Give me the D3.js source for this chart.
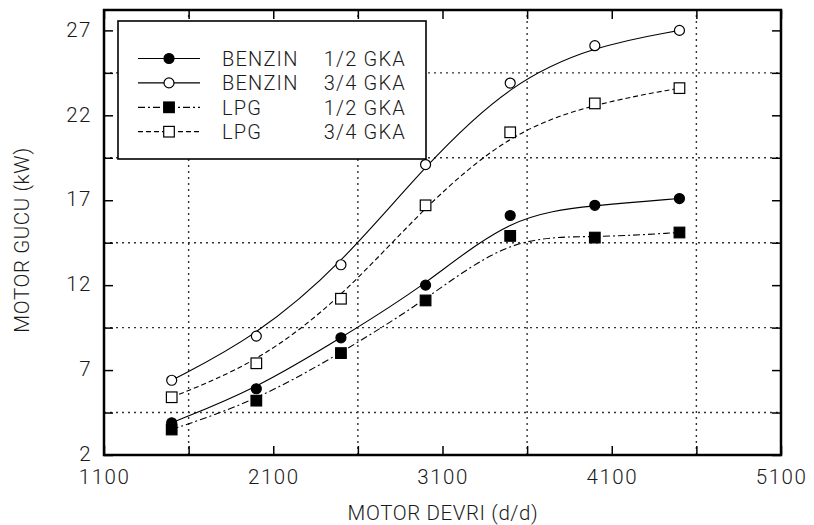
<!DOCTYPE html>
<html>
<head>
<meta charset="utf-8">
<script src="https://cdn.jsdelivr.net/npm/d3@7"></script>
<style>
  html, body { margin: 0; padding: 0; background: #fff; }
  svg { display: block; }
  text { font-family: Roboto, "Liberation Sans", Arial, sans-serif; font-weight: 300; fill: #1a1a1a; }
</style>
</head>
<body>
<svg id="chart" width="814" height="525"></svg>
<script>
// ---- data ----
const rpm = [1500, 2000, 2500, 3000, 3500, 4000, 4500];
const benzin12 = [3.9, 5.9, 8.9, 12.0, 16.1, 16.7, 17.1];
const benzin34 = [6.4, 9.0, 13.2, 19.1, 23.9, 26.1, 27.0];
const lpg12 = [3.5, 5.2, 8.0, 11.1, 14.9, 14.8, 15.1];
const lpg34 = [5.4, 7.4, 11.2, 16.7, 21.0, 22.7, 23.6];
const seriesNames = ["BENZIN", "BENZIN", "LPG", "LPG"];
const seriesLoads = ["1/2 GKA", "3/4 GKA", "1/2 GKA", "3/4 GKA"];
const xTicks = [1100, 2100, 3100, 4100, 5100];
const xMinor = [1600, 2600, 3600, 4600];
const yTicks = [2, 7, 12, 17, 22, 27];
const yMinor = [4.5, 9.5, 14.5, 19.5, 24.5];
const xTitle = "MOTOR DEVRI (d/d)";
const yTitle = "MOTOR GUCU (kW)";

const series = [
  { name: seriesNames[0], load: seriesLoads[0], values: benzin12, marker: "circle", fill: "#000", dash: null },
  { name: seriesNames[1], load: seriesLoads[1], values: benzin34, marker: "circle", fill: "#fff", dash: null },
  { name: seriesNames[2], load: seriesLoads[2], values: lpg12, marker: "square", fill: "#000", dash: "7,3,2,3" },
  { name: seriesNames[3], load: seriesLoads[3], values: lpg34, marker: "square", fill: "#fff", dash: "5,3" }
];

const svg = d3.select("#chart");
const x = d3.scaleLinear().domain([1100, 5100]).range([104, 781]);
const y = d3.scaleLinear().domain([2, 28.2]).range([455, 10]);
const FS = 20.5;

// gridlines (dotted, at minor ticks)
const grid = svg.append("g").attr("stroke", "#333").attr("stroke-width", 1.4).attr("stroke-dasharray", "2,4");
grid.selectAll(".gx").data(xMinor).join("line")
  .attr("x1", d => x(d)).attr("x2", d => x(d)).attr("y1", y.range()[0]).attr("y2", y.range()[1]);
grid.selectAll(".gy").data(yMinor).join("line")
  .attr("y1", d => y(d)).attr("y2", d => y(d)).attr("x1", x.range()[0]).attr("x2", x.range()[1]);

// axes
function styleAxis(g) {
  g.select(".domain").remove();
  g.selectAll(".tick line").attr("stroke", "#000").attr("stroke-width", 1.5);
  g.selectAll(".tick text").style("font-size", FS + "px").style("letter-spacing", "1.5px").attr("fill", "#1a1a1a");
}
const allX = xTicks.concat(xMinor), allY = yTicks.concat(yMinor);
svg.append("g").attr("transform", `translate(0,${y.range()[0]})`)
  .call(d3.axisBottom(x).tickValues(xTicks).tickSizeInner(-9).tickSizeOuter(0).tickPadding(14).tickFormat(d3.format("d")))
  .call(styleAxis);
svg.append("g").attr("transform", `translate(0,${y.range()[0]})`)
  .call(d3.axisBottom(x).tickValues(xMinor).tickSizeInner(-9).tickSizeOuter(0).tickFormat(""))
  .call(styleAxis);
svg.append("g").attr("transform", `translate(0,${y.range()[1]})`)
  .call(d3.axisTop(x).tickValues(allX).tickSizeInner(-9).tickSizeOuter(0).tickFormat(""))
  .call(styleAxis);
svg.append("g").attr("transform", `translate(${x.range()[0]},0)`)
  .call(d3.axisLeft(y).tickValues(yTicks).tickSizeInner(-9).tickSizeOuter(0).tickPadding(12).tickFormat(d3.format("d")))
  .call(styleAxis)
  .call(g => g.selectAll(".tick text").attr("dy", "0.28em"));
svg.append("g").attr("transform", `translate(${x.range()[0]},0)`)
  .call(d3.axisLeft(y).tickValues(yMinor).tickSizeInner(-9).tickSizeOuter(0).tickFormat(""))
  .call(styleAxis);
svg.append("g").attr("transform", `translate(${x.range()[1]},0)`)
  .call(d3.axisRight(y).tickValues(allY).tickSizeInner(-9).tickSizeOuter(0).tickFormat(""))
  .call(styleAxis);
svg.selectAll("g[font-family]").attr("font-family", null).attr("font-size", null);

// frame
svg.append("rect")
  .attr("x", x.range()[0]).attr("y", y.range()[1])
  .attr("width", x.range()[1] - x.range()[0]).attr("height", y.range()[0] - y.range()[1])
  .attr("fill", "none").attr("stroke", "#000").attr("stroke-width", 2.5);

// smoothed curves through the measured points
const line = d3.line().x((d, i) => x(rpm[i])).y(d => y(d)).curve(d3.curveBasis);

function drawMarker(g, s, cx, cy) {
  if (s.marker === "circle") {
    g.append("circle").attr("cx", cx).attr("cy", cy).attr("r", 5)
      .attr("fill", s.fill).attr("stroke", "#000").attr("stroke-width", 1.2);
  } else {
    g.append("rect").attr("x", cx - 5.3).attr("y", cy - 5.3).attr("width", 10.6).attr("height", 10.6)
      .attr("fill", s.fill).attr("stroke", "#000").attr("stroke-width", 1.2);
  }
}

const plot = svg.append("g");
series.forEach(s => {
  plot.append("path").datum(s.values)
    .attr("d", line).attr("fill", "none").attr("stroke", "#000").attr("stroke-width", 1.1)
    .attr("stroke-dasharray", s.dash);
});
series.forEach(s => {
  const g = plot.append("g");
  rpm.forEach((r, i) => drawMarker(g, s, x(r), y(s.values[i])));
});

// legend
const lg = svg.append("g");
lg.append("rect").attr("x", 118).attr("y", 21).attr("width", 308).attr("height", 138)
  .attr("fill", "#fff").attr("stroke", "#000").attr("stroke-width", 1.6);
series.forEach((s, i) => {
  const ly = 58.5 + i * 24.4;
  lg.append("line").attr("x1", 138).attr("x2", 200).attr("y1", ly).attr("y2", ly)
    .attr("stroke", "#000").attr("stroke-width", 1.2).attr("stroke-dasharray", s.dash);
  drawMarker(lg, s, 169, ly);
  lg.append("text").attr("x", 222).attr("y", ly).attr("dy", "0.36em")
    .style("font-size", "20px").style("letter-spacing", "1.2px").text(s.name);
  lg.append("text").attr("x", 406).attr("y", ly).attr("dy", "0.36em").attr("text-anchor", "end")
    .style("font-size", "20px").style("letter-spacing", "1.2px").text(s.load);
});

// axis titles
svg.append("text").attr("x", 443).attr("y", 520).attr("text-anchor", "middle")
  .style("font-size", FS + "px").style("letter-spacing", "0.6px").text(xTitle);
svg.append("text").attr("transform", "translate(29,240) rotate(-90)").attr("text-anchor", "middle")
  .style("font-size", FS + "px").style("letter-spacing", "0.6px").text(yTitle);
</script>
</body>
</html>
